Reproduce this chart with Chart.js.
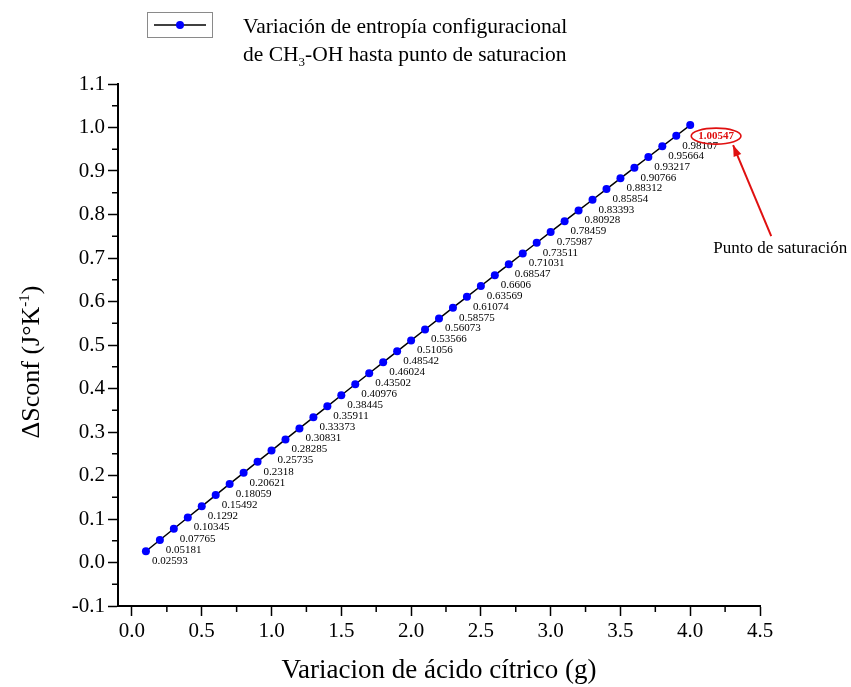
<!DOCTYPE html>
<html>
<head>
<meta charset="utf-8">
<script src="https://cdn.jsdelivr.net/npm/chart.js@4.4.0/dist/chart.umd.min.js"></script>
<style>
  html, body { margin: 0; padding: 0; background: #fff; }
  #wrap { width: 851px; height: 687px; position: relative; }
</style>
</head>
<body>
<div id="wrap"><canvas id="chart1"></canvas></div>
<script>
// Data
const acidGrams = [0.1, 0.2, 0.3, 0.4, 0.5, 0.6, 0.7, 0.8, 0.9, 1.0,
                   1.1, 1.2, 1.3, 1.4, 1.5, 1.6, 1.7, 1.8, 1.9, 2.0,
                   2.1, 2.2, 2.3, 2.4, 2.5, 2.6, 2.7, 2.8, 2.9, 3.0,
                   3.1, 3.2, 3.3, 3.4, 3.5, 3.6, 3.7, 3.8, 3.9, 4.0];
const sconf = [0.02593, 0.05181, 0.07765, 0.10345, 0.1292, 0.15492, 0.18059, 0.20621, 0.2318, 0.25735,
               0.28285, 0.30831, 0.33373, 0.35911, 0.38445, 0.40976, 0.43502, 0.46024, 0.48542, 0.51056,
               0.53566, 0.56073, 0.58575, 0.61074, 0.63569, 0.6606, 0.68547, 0.71031, 0.73511, 0.75987,
               0.78459, 0.80928, 0.83393, 0.85854, 0.88312, 0.90766, 0.93217, 0.95664, 0.98107, 1.00547];
const pointLabels = ['0.02593', '0.05181', '0.07765', '0.10345', '0.1292', '0.15492', '0.18059', '0.20621', '0.2318', '0.25735',
                     '0.28285', '0.30831', '0.33373', '0.35911', '0.38445', '0.40976', '0.43502', '0.46024', '0.48542', '0.51056',
                     '0.53566', '0.56073', '0.58575', '0.61074', '0.63569', '0.6606', '0.68547', '0.71031', '0.73511', '0.75987',
                     '0.78459', '0.80928', '0.83393', '0.85854', '0.88312', '0.90766', '0.93217', '0.95664', '0.98107', '1.00547'];
const xTickValues = [0.0, 0.5, 1.0, 1.5, 2.0, 2.5, 3.0, 3.5, 4.0, 4.5];
const xMinorTicks = [0.25, 0.75, 1.25, 1.75, 2.25, 2.75, 3.25, 3.75, 4.25];
const yMinorTicks = [-0.05, 0.05, 0.15, 0.25, 0.35, 0.45, 0.55, 0.65, 0.75, 0.85, 0.95, 1.05];

const serif = '"Liberation Serif", "Times New Roman", serif';

// draws minor ticks, point labels, annotation, titles and legend
const extras = {
    id: 'extras',
    afterDraw(chart) {
        const c = chart.ctx;
        const xs = chart.scales.x, ys = chart.scales.y;
        const area = chart.chartArea;
        c.save();

        // minor ticks
        c.strokeStyle = '#000';
        c.lineWidth = 1.5;
        c.beginPath();
        xMinorTicks.forEach(v => {
            const px = xs.getPixelForValue(v);
            c.moveTo(px, area.bottom);
            c.lineTo(px, area.bottom + 6);
        });
        yMinorTicks.forEach(v => {
            const py = ys.getPixelForValue(v);
            c.moveTo(area.left, py);
            c.lineTo(area.left - 6, py);
        });
        c.stroke();

        // point labels
        const pts = chart.getDatasetMeta(0).data;
        c.fillStyle = '#000';
        c.font = '11px ' + serif;
        c.textBaseline = 'middle';
        c.textAlign = 'left';
        for (let i = 0; i < pts.length - 1; i++) {
            c.fillText(pointLabels[i], pts[i].x + 6, pts[i].y + 10);
        }

        // saturation point
        const last = pts[pts.length - 1];
        c.font = 'bold 11px ' + serif;
        c.fillStyle = '#e01010';
        const lw = c.measureText(pointLabels[pts.length - 1]).width;
        const lx = last.x + 8, ly = last.y + 11;
        c.fillText(pointLabels[pts.length - 1], lx, ly);
        c.strokeStyle = '#e01010';
        c.lineWidth = 1.6;
        c.beginPath();
        c.ellipse(lx + lw / 2, ly, lw / 2 + 7, 8, 0, 0, Math.PI * 2);
        c.stroke();

        // arrow
        const tipX = lx + lw / 2 + 17, tipY = ly + 9;
        const tailX = last.x + 81, tailY = last.y + 111;
        c.lineWidth = 2;
        c.beginPath();
        c.moveTo(tailX, tailY);
        c.lineTo(tipX, tipY);
        c.stroke();
        const ang = Math.atan2(tipY - tailY, tipX - tailX);
        c.fillStyle = '#e01010';
        c.beginPath();
        c.moveTo(tipX, tipY);
        c.lineTo(tipX - 12 * Math.cos(ang - 0.35), tipY - 12 * Math.sin(ang - 0.35));
        c.lineTo(tipX - 12 * Math.cos(ang + 0.35), tipY - 12 * Math.sin(ang + 0.35));
        c.closePath();
        c.fill();

        c.fillStyle = '#000';
        c.font = '17px ' + serif;
        c.textAlign = 'left';
        c.fillText('Punto de saturación', last.x + 23, last.y + 123);

        // x title
        c.font = '27px ' + serif;
        c.textAlign = 'center';
        c.textBaseline = 'alphabetic';
        c.fillText('Variacion de ácido cítrico (g)', (area.left + area.right) / 2, 678);

        // y title with superscript
        c.translate(39, (area.top + area.bottom) / 2 + 17);
        c.rotate(-Math.PI / 2);
        c.textAlign = 'left';
        const big = '26px ' + serif, small = '15px ' + serif;
        const p1 = 'ΔSconf (J°K', p2 = '-1', p3 = ')';
        c.font = big; const w1 = c.measureText(p1).width, w3 = c.measureText(p3).width;
        c.font = small; const w2 = c.measureText(p2).width;
        let sx = -(w1 + w2 + w3) / 2;
        c.font = big; c.fillText(p1, sx, 0); sx += w1;
        c.font = small; c.fillText(p2, sx, -10); sx += w2;
        c.font = big; c.fillText(p3, sx, 0);
        c.restore();

        // legend
        c.save();
        c.strokeStyle = '#8a8a8a';
        c.lineWidth = 1;
        c.strokeRect(147.5, 12.5, 65, 25);
        c.strokeStyle = '#000';
        c.lineWidth = 1.5;
        c.beginPath();
        c.moveTo(154, 25);
        c.lineTo(206, 25);
        c.stroke();
        c.fillStyle = '#0000ff';
        c.beginPath();
        c.arc(180, 25, 4, 0, Math.PI * 2);
        c.fill();
        c.fillStyle = '#000';
        c.textBaseline = 'alphabetic';
        c.textAlign = 'left';
        c.font = '21.5px ' + serif;
        c.fillText('Variación de entropía configuracional', 243, 33);
        let tx = 243;
        const a = 'de CH', b = '3', d = '-OH hasta punto de saturacion';
        c.fillText(a, tx, 61); tx += c.measureText(a).width;
        c.font = '13px ' + serif;
        c.fillText(b, tx, 66); tx += c.measureText(b).width;
        c.font = '21.5px ' + serif;
        c.fillText(d, tx, 61);
        c.restore();
    }
};

const ctx1 = document.getElementById('chart1').getContext('2d');
const chart1 = new Chart(ctx1, {
    type: 'line',
    data: {
        datasets: [{
            label: 'Variación de entropía configuracional',
            data: acidGrams.map((g, i) => ({x: g, y: sconf[i]})),
            borderColor: '#000',
            borderWidth: 1.5,
            pointRadius: 4,
            pointBackgroundColor: '#0000ff',
            pointBorderColor: '#0000ff',
            pointBorderWidth: 0,
            tension: 0
        }]
    },
    options: {
        responsive: true,
        maintainAspectRatio: false,
        animation: false,
        layout: {padding: {left: 0, right: 91, top: 84, bottom: 0}},
        plugins: {legend: {display: false}, tooltip: {enabled: false}},
        scales: {
            x: {
                type: 'linear',
                min: -0.1,
                max: 4.5,
                afterBuildTicks: s => { s.ticks = xTickValues.map(v => ({value: v})); },
                afterFit: s => { s.height = 81; },
                ticks: {
                    color: '#000',
                    font: {family: serif, size: 21},
                    padding: 3,
                    maxRotation: 0,
                    callback: v => v.toFixed(1)
                },
                grid: {display: true, drawOnChartArea: false, drawTicks: true, tickLength: 10, tickColor: '#000', tickWidth: 1.5},
                border: {display: true, color: '#000', width: 2}
            },
            y: {
                min: -0.1,
                max: 1.1,
                afterFit: s => { s.width = 118; },
                ticks: {
                    stepSize: 0.1,
                    color: '#000',
                    font: {family: serif, size: 21},
                    padding: 3,
                    callback: v => v.toFixed(1)
                },
                grid: {display: true, drawOnChartArea: false, drawTicks: true, tickLength: 10, tickColor: '#000', tickWidth: 1.5},
                border: {display: true, color: '#000', width: 2}
            }
        }
    },
    plugins: [extras]
});
</script>
</body>
</html>
